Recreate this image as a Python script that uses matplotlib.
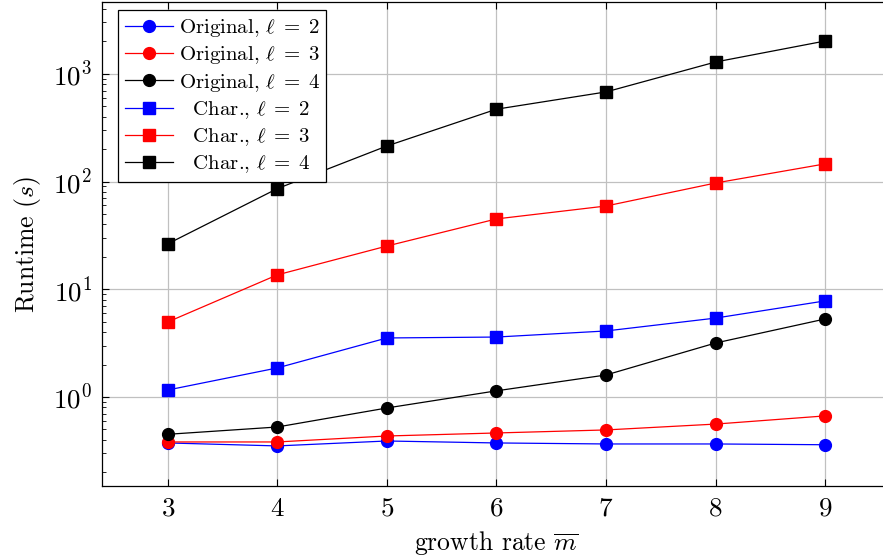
import matplotlib
matplotlib.use("Agg")
import matplotlib.pyplot as plt
import numpy as np

# data
m = [3, 4, 5, 6, 7, 8, 9]
orig_l2 = [0.374, 0.351, 0.390, 0.374, 0.366, 0.366, 0.360]
orig_l3 = [0.382, 0.382, 0.434, 0.463, 0.494, 0.560, 0.667]
orig_l4 = [0.45, 0.526, 0.79, 1.14, 1.60, 3.17, 5.3]
char_l2 = [1.16, 1.86, 3.53, 3.60, 4.10, 5.40, 7.8]
char_l3 = [4.97, 13.6, 25.2, 45.0, 59.3, 97.0, 146.0]
char_l4 = [26.4, 86.0, 214.0, 470.0, 680.0, 1290.0, 2020.0]

plt.rcParams['font.family'] = 'serif'
plt.rcParams['font.serif'] = ['cmr10', 'DejaVu Serif']
plt.rcParams['mathtext.fontset'] = 'cm'
plt.rcParams['axes.formatter.use_mathtext'] = True
plt.rcParams['xtick.direction'] = 'in'
plt.rcParams['ytick.direction'] = 'in'

fig = plt.figure(figsize=(8.83, 5.59), dpi=100)
ax = fig.add_axes([0.1155, 0.1306, 0.8935, 0.866])

lw = 0.9
ms = 8.5
ax.plot(m, orig_l2, color='blue', marker='o', lw=lw, ms=ms, label=r'Original, $\ell\;=\;2$')
ax.plot(m, orig_l3, color='red', marker='o', lw=lw, ms=ms, label=r'Original, $\ell\;=\;3$')
ax.plot(m, orig_l4, color='black', marker='o', lw=lw, ms=ms, label=r'Original, $\ell\;=\;4$')
ax.plot(m, char_l2, color='blue', marker='s', lw=lw, ms=ms, label=r'  Char., $\ell\;=\;2$')
ax.plot(m, char_l3, color='red', marker='s', lw=lw, ms=ms, label=r'  Char., $\ell\;=\;3$')
ax.plot(m, char_l4, color='black', marker='s', lw=lw, ms=ms, label=r'  Char., $\ell\;=\;4$')

ax.set_yscale('log')
ax.set_xlim(2.4, 9.6)
ax.set_ylim(0.149, 4660)
ax.set_xticks(m)

ax.grid(True, which='major', color='#c0c0c0', lw=0.9)
ax.set_axisbelow(True)
ax.tick_params(which='both', top=True, right=True, labelsize=19.5)
ax.tick_params(which='major', length=5, width=0.8)
ax.tick_params(which='minor', length=3, width=0.6)
ax.tick_params(axis='x', pad=8)
ax.tick_params(axis='y', pad=7)
for s in ax.spines.values():
    s.set_linewidth(0.9)

ax.set_xlabel(r'growth rate $\overline{m}$', fontsize=18.5, labelpad=6)
ax.set_ylabel(r'Runtime ($s$)', fontsize=18.5, labelpad=7)

leg = ax.legend(loc='upper left', fontsize=15, fancybox=False, framealpha=1,
                edgecolor='black', handlelength=2.3, borderpad=0.32,
                labelspacing=0.26, handletextpad=0.3, borderaxespad=0,
                bbox_to_anchor=(0.0203, 0.983))
leg.get_frame().set_linewidth(0.9)

fig.savefig("out.png", dpi=100)
